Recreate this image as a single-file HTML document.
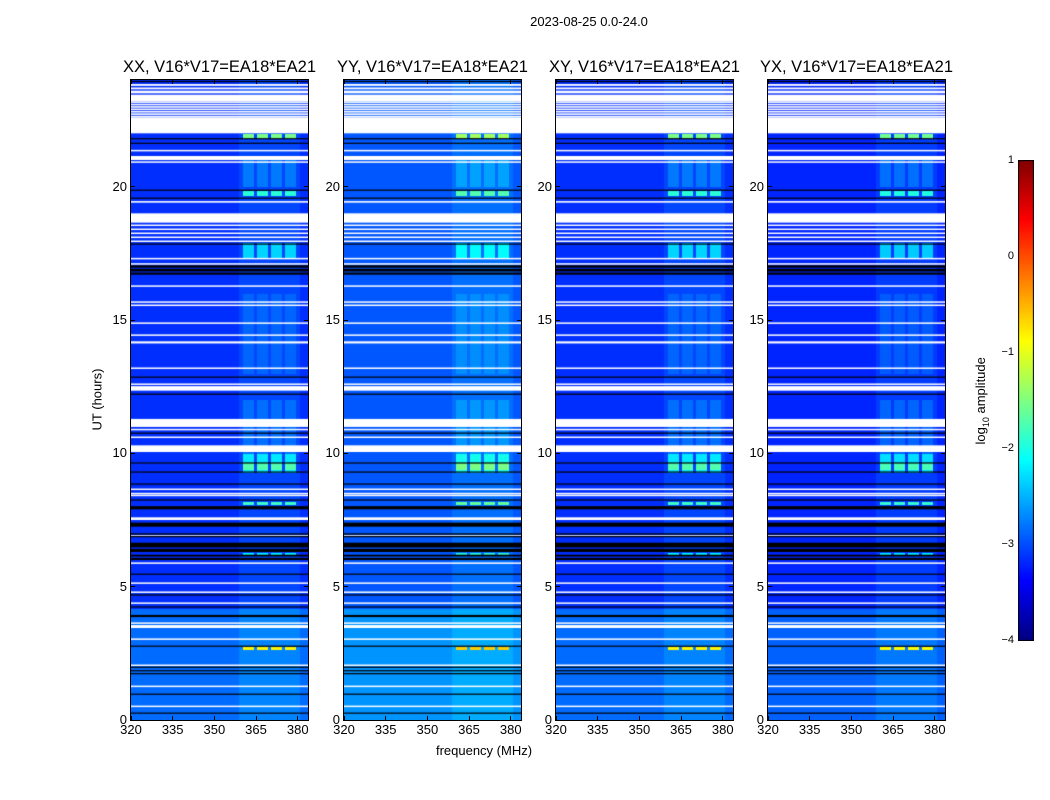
<!DOCTYPE html>
<html><head><meta charset="utf-8">
<style>
body{margin:0;background:#fff;font-family:"Liberation Sans",sans-serif;}
#root{position:relative;width:1050px;height:800px;overflow:hidden;}
.txt{position:absolute;color:#000;white-space:nowrap;}
canvas{position:absolute;}
</style></head>
<body>
<div id="root">
  <div class="txt" style="left:489px;top:14px;width:200px;text-align:center;font-size:13px;">2023-08-25 0.0-24.0</div>
  <div class="txt" style="left:52px;top:392px;font-size:13px;transform:rotate(-90deg);transform-origin:center;width:90px;text-align:center;">UT (hours)</div>
  <div class="txt" style="left:384px;top:743px;width:200px;text-align:center;font-size:13px;">frequency (MHz)</div>
  <canvas id="cb" width="16" height="481" style="left:1018px;top:160px;"></canvas>
  <div class="txt" style="left:922px;top:392px;font-size:13px;transform:rotate(-90deg);width:120px;text-align:center;">log<sub style="font-size:9px">10</sub> amplitude</div>
</div>
<script>
// ---- data ----
const panelTitles = ["XX, V16*V17=EA18*EA21","YY, V16*V17=EA18*EA21","XY, V16*V17=EA18*EA21","YX, V16*V17=EA18*EA21"];
const panelOffsets = [0, 0.2, 0.0, -0.05];
const xTicks = [320,335,350,365,380];
const yTicks = [0,5,10,15,20];
const cbTicks = [1,0,-1,-2,-3,-4];
const baseSegments = [[0,4.2,-2.85],[4.2,24,-3.15]];
const rfiBlocks = [[360.3,364.6],[365.3,369.6],[370.4,374.7],[375.4,379.7]];
const broadBand = [359,381,0.12];
const rfiEvents = [[21.82,22.0,1.5],[19.65,19.85,1.1],[17.3,17.9,0.7],[20.0,21.0,0.25],[9.3,10.0,0.8],[9.4,9.65,0.5],[8.1,8.2,1.2],[6.2,6.3,0.9],[2.63,2.74,1.9],[1.88,1.92,1.5],[10.0,12.0,0.2],[13.0,16.0,0.15]];
const whiteSpans = [[23.5,23.6],[23.65,23.72],[23.78,23.85],[23.2,23.45],[22.6,22.66],[22.69,22.75],[22.78,22.84],[22.87,22.93],[22.96,23.02],[23.05,23.11],[23.14,23.2],[22.0,22.6],[21.33,21.38],[21.0,21.15],[20.91,20.95],[19.4,19.46],[18.65,19.0],[18.55,18.58],[18.4,18.43],[18.25,18.28],[18.1,18.13],[17.95,17.98],[17.28,17.33],[17.08,17.13],[16.25,16.3],[15.65,15.7],[15.54,15.58],[14.86,14.91],[14.41,14.46],[14.12,14.2],[13.18,13.22],[12.58,12.62],[12.35,12.52],[10.99,11.29],[10.88,10.92],[10.59,10.63],[10.05,10.3],[8.65,8.68],[8.49,8.52],[8.42,8.45],[7.5,7.6],[6.9,6.93],[5.87,5.91],[5.12,5.16],[4.78,4.82],[4.37,4.41],[3.62,3.66],[3.45,3.56],[3.02,3.06],[2.04,2.08],[1.25,1.29],[0.5,0.54]];
const blackSpans = [[23.92,23.97],[21.78,21.82],[21.62,21.65],[19.85,19.89],[19.55,19.59],[17.84,17.87],[16.7,16.78],[16.82,16.92],[16.96,17.05],[12.84,12.88],[12.2,12.24],[10.74,10.78],[9.62,9.66],[9.28,9.32],[8.83,8.87],[8.23,8.27],[7.9,8.02],[7.25,7.4],[6.86,6.9],[6.95,7.0],[6.3,6.42],[6.47,6.65],[6.0,6.08],[6.13,6.2],[5.45,5.49],[4.67,4.71],[4.22,4.26],[3.86,3.94],[2.75,2.79],[1.72,1.76],[1.85,1.87],[1.96,2.0],[0.95,0.99],[0.24,0.28]];

// ---- geometry ----
const panelLefts = [131,344,556,768];
const PW = 177, PTOP = 80, PH = 640;
const FMIN = 320, FMAX = 383.7, TMIN = 0, TMAX = 24;
const VMIN = -4, VMAX = 1;
function xs(f){return (f-FMIN)/(FMAX-FMIN)*PW;}
function ys(t){return PH-(t-TMIN)/(TMAX-TMIN)*PH;}
function clip(a){return Math.max(0,Math.min(1,a));}
function jet(v){
  const n=clip((v-VMIN)/(VMAX-VMIN));
  const r=clip(1.5-Math.abs(4*n-3)), g=clip(1.5-Math.abs(4*n-2)), b=clip(1.5-Math.abs(4*n-1));
  return `rgb(${Math.round(r*255)},${Math.round(g*255)},${Math.round(b*255)})`;
}
function value(t,f,off){
  let v=off;
  for(const s of baseSegments) if(t>=s[0]&&t<s[1]) v+=s[2];
  if(f>=broadBand[0]&&f<broadBand[1]) v+=broadBand[2];
  let inBlk=false;
  for(const b of rfiBlocks) if(f>=b[0]&&f<b[1]) inBlk=true;
  if(inBlk) for(const e of rfiEvents) if(t>=e[0]&&t<e[1]) v+=e[2];
  return v;
}
const root=document.getElementById('root');
const DT=0.05, DF=0.5;
panelLefts.forEach((L,p)=>{
  const c=document.createElement('canvas');
  c.width=PW; c.height=PH;
  c.style.left=L+'px'; c.style.top=PTOP+'px';
  
  
  root.appendChild(c);
  const ctx=c.getContext('2d');
  for(let t=TMIN;t<TMAX;t+=DT){
    for(let f=FMIN;f<FMAX;f+=DF){
      ctx.fillStyle=jet(value(t+DT/2,f+DF/2,panelOffsets[p]));
      const x0=xs(f),x1=xs(f+DF),y0=ys(t+DT),y1=ys(t);
      ctx.fillRect(Math.floor(x0),Math.floor(y0),Math.ceil(x1)-Math.floor(x0),Math.ceil(y1)-Math.floor(y0));
    }
  }
  ctx.fillStyle='#fff';
  for(const s of whiteSpans){const y0=ys(s[1]),y1=ys(s[0]);ctx.fillRect(0,y0,PW,Math.max(1.5,y1-y0));}
  ctx.fillStyle='#000';
  for(const s of blackSpans){const y0=ys(s[1]),y1=ys(s[0]);ctx.fillRect(0,y0,PW,Math.max(1.2,y1-y0));}
  const fr=document.createElement('div');
  fr.style.cssText=`position:absolute;left:${L-1}px;top:${PTOP-1}px;width:${PW}px;height:${PH}px;border:1px solid #000;`;
  
  
  root.appendChild(fr);
  const ti=document.createElement('div');
  ti.className='txt';
  ti.style.cssText=`left:${L-50}px;top:58px;width:${PW+100}px;text-align:center;font-size:16.5px;`;
  ti.textContent=panelTitles[p];
  
  
  root.appendChild(ti);
  xTicks.forEach(v=>{
    const x=L+xs(v);
    for(const yy of [PTOP+PH-4,PTOP]){
      const tk=document.createElement('div');
      tk.style.cssText=`position:absolute;left:${x-0.5}px;top:${yy}px;width:1px;height:4px;background:#000;`;
      
      
      root.appendChild(tk);
    }
    const lb=document.createElement('div');
    lb.className='txt';
    lb.style.cssText=`left:${x-20}px;top:${PTOP+PH+2}px;width:40px;text-align:center;font-size:13px;`;
    lb.textContent=v;
    
    
    root.appendChild(lb);
  });
  yTicks.forEach(v=>{
    const y=PTOP+ys(v);
    for(const xx of [L,L+PW-4]){
      const tk=document.createElement('div');
      tk.style.cssText=`position:absolute;left:${xx}px;top:${y-0.5}px;width:4px;height:1px;background:#000;`;
      
      
      root.appendChild(tk);
    }
    const lb=document.createElement('div');
    lb.className='txt';
    lb.style.cssText=`left:${L-44}px;top:${y-8}px;width:40px;text-align:right;font-size:13px;`;
    lb.textContent=v;
    
    
    root.appendChild(lb);
  });
});
const cb=document.getElementById('cb'), cctx=cb.getContext('2d');
for(let i=0;i<480;i++){cctx.fillStyle=jet(VMAX-(i/480)*(VMAX-VMIN));cctx.fillRect(0,i,16,1);}
cctx.strokeStyle='#000';cctx.strokeRect(0.5,0.5,15,480);
cbTicks.forEach(v=>{
  const y=160+(VMAX-v)/(VMAX-VMIN)*480;
  const lb=document.createElement('div');
  lb.className='txt';
  lb.style.cssText=`left:990px;top:${y-6}px;width:24px;text-align:right;font-size:11px;`;
  lb.textContent=v<0?'\u2212'+(-v):String(v);
  
  
  root.appendChild(lb);
});
</script>
</body></html>
